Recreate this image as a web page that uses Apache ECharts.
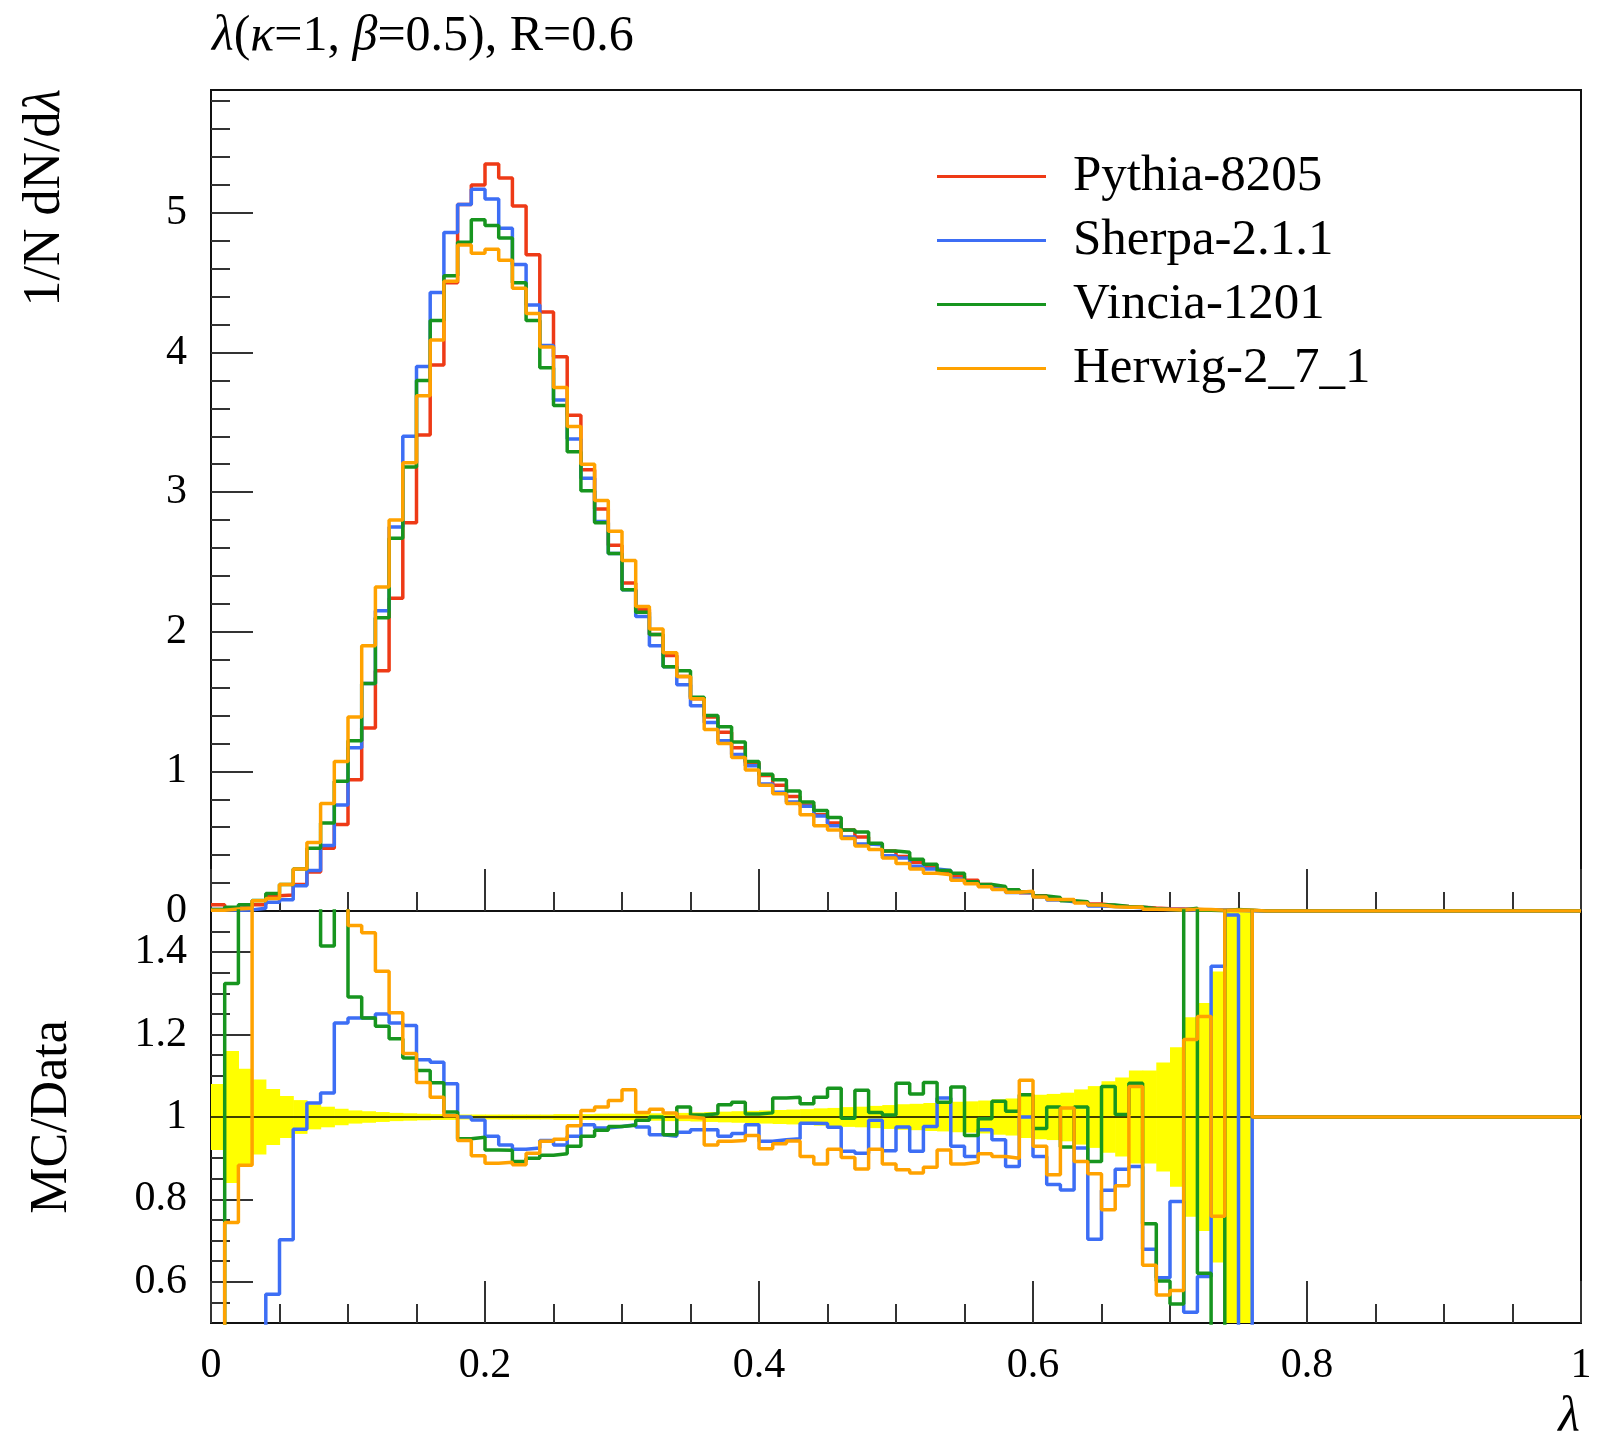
<!DOCTYPE html>
<html>
<head>
<meta charset="utf-8">
<title>lambda(k=1, b=0.5), R=0.6</title>
<script src="https://cdn.jsdelivr.net/npm/echarts@6.0.0/dist/echarts.min.js"></script>
<style>
  html, body { margin: 0; padding: 0; background: #fff; }
  #chart { width: 1597px; height: 1437px; }
</style>
</head>
<body>
<div id="chart"></div>
<script>
// ---- binning: 100 bins of width 0.01 on [0, 1] ----
const binWidth = 0.01
const nBins = 100
const xTicks = [0, 0.2, 0.4, 0.6, 0.8, 1]

// ---- main panel: 1/N dN/dλ ----
const pythia = [
  0.044, 0.02, 0.023, 0.045, 0.11, 0.115, 0.19, 0.28, 0.45, 0.62,
  0.94, 1.31, 1.72, 2.24, 2.78, 3.41, 3.91, 4.50, 5.06, 5.20,
  5.35, 5.25, 5.05, 4.70, 4.29, 3.97, 3.55, 3.16, 2.88, 2.62,
  2.35, 2.16, 1.98, 1.83, 1.68, 1.52, 1.39, 1.28, 1.17, 1.06,
  0.97, 0.90, 0.82, 0.76, 0.69, 0.63, 0.58, 0.53, 0.48, 0.43,
  0.39, 0.35, 0.31, 0.28, 0.25, 0.22, 0.19, 0.17, 0.15, 0.13,
  0.11, 0.095, 0.08, 0.065, 0.05, 0.04, 0.032, 0.026, 0.021, 0.017,
  0.014, 0.011, 0.008, 0.006, 0.004, 0.003, 0, 0, 0, 0,
  0, 0, 0, 0, 0, 0, 0, 0, 0, 0,
  0, 0, 0, 0, 0, 0, 0, 0, 0, 0
]
const sherpa = [
  0.01, 0.005, 0.008, 0.02, 0.063, 0.08, 0.18, 0.29, 0.47, 0.76,
  1.17, 1.63, 2.15, 2.75, 3.40, 3.90, 4.43, 4.86, 5.06, 5.17,
  5.10, 4.89, 4.63, 4.34, 4.05, 3.66, 3.38, 3.10, 2.79, 2.56,
  2.30, 2.11, 1.90, 1.75, 1.62, 1.47, 1.35, 1.22, 1.12, 1.04,
  0.91, 0.85, 0.78, 0.75, 0.68, 0.61, 0.53, 0.48, 0.475, 0.395,
  0.38, 0.32, 0.30, 0.29, 0.23, 0.20, 0.184, 0.16, 0.132, 0.13,
  0.10, 0.079, 0.066, 0.06, 0.035, 0.033, 0.028, 0.023, 0.014, 0.010,
  0.011, 0.006, 0.005, 0.008, 0.006, 0.001, 0, 0, 0, 0,
  0, 0, 0, 0, 0, 0, 0, 0, 0, 0,
  0, 0, 0, 0, 0, 0, 0, 0, 0, 0
]
const vincia = [
  0.01, 0.026, 0.045, 0.075, 0.125, 0.19, 0.30, 0.45, 0.63, 0.93,
  1.22, 1.63, 2.10, 2.67, 3.18, 3.80, 4.23, 4.55, 4.79, 4.95,
  4.91, 4.82, 4.50, 4.23, 3.89, 3.62, 3.29, 3.01, 2.78, 2.56,
  2.30, 2.14, 1.98, 1.75, 1.72, 1.53, 1.40, 1.32, 1.21, 1.07,
  0.98, 0.94, 0.86, 0.78, 0.72, 0.67, 0.58, 0.565, 0.485, 0.43,
  0.42, 0.37, 0.335, 0.29, 0.27, 0.21, 0.19, 0.176, 0.152, 0.137,
  0.107, 0.097, 0.074, 0.067, 0.045, 0.043, 0.032, 0.028, 0.016, 0.010,
  0.008, 0.02, 0.005, 0.002, 0.01, 0.005, 0, 0, 0, 0,
  0, 0, 0, 0, 0, 0, 0, 0, 0, 0,
  0, 0, 0, 0, 0, 0, 0, 0, 0, 0
]
const herwig = [
  0.005, 0.015, 0.02, 0.073, 0.09, 0.19, 0.30, 0.49, 0.77, 1.07,
  1.39, 1.90, 2.32, 2.80, 3.21, 3.69, 4.09, 4.51, 4.77, 4.71,
  4.74, 4.66, 4.46, 4.28, 4.04, 3.75, 3.47, 3.20, 2.94, 2.72,
  2.51, 2.18, 2.02, 1.85, 1.68, 1.52, 1.30, 1.20, 1.10, 1.01,
  0.90, 0.84, 0.77, 0.69, 0.61, 0.58, 0.52, 0.465, 0.44, 0.38,
  0.34, 0.30, 0.27, 0.26, 0.22, 0.196, 0.173, 0.154, 0.135, 0.142,
  0.10, 0.082, 0.082, 0.058, 0.043, 0.031, 0.027, 0.028, 0.013, 0.010,
  0.008, 0.013, 0.010, 0.005, 0.008, 0.005, 0, 0, 0, 0,
  0, 0, 0, 0, 0, 0, 0, 0, 0, 0,
  0, 0, 0, 0, 0, 0, 0, 0, 0, 0
]

// ---- ratio panel: MC/Data (values past the panel edges are clipped) ----
const sherpaRatio = [
  0.3, 0.3, 0.3, 0.3, 0.570, 0.702, 0.97, 1.034, 1.058, 1.228,
  1.24, 1.24, 1.25, 1.228, 1.222, 1.139, 1.133, 1.081, 1.0, 0.993,
  0.953, 0.932, 0.922, 0.925, 0.943, 0.932, 0.953, 0.981, 0.973, 0.977,
  0.981, 0.976, 0.957, 0.953, 0.963, 0.969, 0.969, 0.953, 0.96, 0.981,
  0.941, 0.945, 0.947, 0.985, 0.984, 0.975, 0.917, 0.912, 0.992, 0.918,
  0.976, 0.917, 0.977, 1.046, 0.929, 0.904, 0.969, 0.945, 0.88, 1.0,
  0.904, 0.836, 0.823, 0.925, 0.703, 0.822, 0.873, 0.88, 0.679, 0.61,
  0.795, 0.526, 0.613, 1.366, 1.49, 0.3, 1, 1, 1, 1,
  1, 1, 1, 1, 1, 1, 1, 1, 1, 1,
  1, 1, 1, 1, 1, 1, 1, 1, 1, 1
]
const vinciaRatio = [
  0.3, 1.324, 1.8, 1.8, 1.8, 1.8, 1.8, 1.8, 1.415, 1.8,
  1.291, 1.24, 1.22, 1.19, 1.143, 1.113, 1.083, 1.012, 0.947, 0.951,
  0.92, 0.919, 0.892, 0.90, 0.907, 0.911, 0.929, 0.953, 0.968, 0.977,
  0.98, 0.992, 1.0, 0.957, 1.024, 1.005, 1.008, 1.03, 1.036, 1.007,
  1.01, 1.046, 1.048, 1.032, 1.048, 1.07, 0.997, 1.065, 1.011, 1.005,
  1.082, 1.056, 1.084, 1.036, 1.073, 0.955, 0.996, 1.038, 1.014, 1.054,
  0.972, 1.024, 0.927, 1.024, 0.892, 1.074, 1.006, 1.082, 0.741, 0.602,
  0.546, 1.8, 0.621, 0.3, 1.8, 1.8, 1, 1, 1, 1,
  1, 1, 1, 1, 1, 1, 1, 1, 1, 1,
  1, 1, 1, 1, 1, 1, 1, 1, 1, 1
]
const herwigRatio = [
  0.3, 0.744, 0.883, 1.8, 1.8, 1.8, 1.8, 1.8, 1.8, 1.8,
  1.465, 1.447, 1.354, 1.253, 1.154, 1.084, 1.048, 1.003, 0.943, 0.906,
  0.888, 0.89, 0.884, 0.912, 0.941, 0.946, 0.979, 1.016, 1.024, 1.04,
  1.066, 1.011, 1.019, 1.01, 1.0, 0.997, 0.932, 0.941, 0.943, 0.955,
  0.923, 0.935, 0.942, 0.904, 0.886, 0.922, 0.902, 0.874, 0.922, 0.886,
  0.872, 0.864, 0.878, 0.920, 0.886, 0.89, 0.911, 0.904, 0.90, 1.089,
  0.929, 0.86, 1.022, 0.892, 0.862, 0.775, 0.833, 1.074, 0.64, 0.568,
  0.579, 1.188, 1.244, 0.759, 1.8, 1.8, 1, 1, 1, 1,
  1, 1, 1, 1, 1, 1, 1, 1, 1, 1,
  1, 1, 1, 1, 1, 1, 1, 1, 1, 1
]
// half-width of the yellow data-uncertainty band round 1, bins 0..75
const bandHalf = [
  0.08, 0.16, 0.117, 0.091, 0.068, 0.051, 0.041, 0.030, 0.025, 0.020,
  0.016, 0.014, 0.012, 0.010, 0.009, 0.008, 0.007, 0.007, 0.006, 0.006,
  0.006, 0.006, 0.006, 0.006, 0.006, 0.007, 0.007, 0.007, 0.008, 0.008,
  0.008, 0.009, 0.009, 0.010, 0.010, 0.011, 0.012, 0.013, 0.014, 0.015,
  0.016, 0.017, 0.018, 0.019, 0.021, 0.022, 0.024, 0.025, 0.027, 0.029,
  0.031, 0.032, 0.034, 0.035, 0.037, 0.038, 0.040, 0.043, 0.045, 0.051,
  0.054, 0.056, 0.059, 0.067, 0.075, 0.087, 0.096, 0.113, 0.113, 0.132,
  0.169, 0.242, 0.277, 0.353, 0.5, 0.5
]

const mainTicks = [0, 1, 2, 3, 4, 5]
const mainMinorTicks = [0.2, 0.4, 0.6, 0.8, 1.2, 1.4, 1.6, 1.8, 2.2, 2.4, 2.6, 2.8,
  3.2, 3.4, 3.6, 3.8, 4.2, 4.4, 4.6, 4.8, 5.2, 5.4, 5.6, 5.8]
const ratioTicks = [0.6, 0.8, 1, 1.2, 1.4]
const ratioMinorTicks = [0.55, 0.65, 0.7, 0.75, 0.85, 0.9, 0.95, 1.05, 1.1, 1.15,
  1.25, 1.3, 1.35, 1.45]

const names = ['Pythia-8205', 'Sherpa-2.1.1', 'Vincia-1201', 'Herwig-2_7_1']
const colors = ['#ee3a16', '#3d6ef5', '#17951f', '#ffa200']

// ---- helpers ----
const FONT = "'Liberation Serif', 'DejaVu Serif', serif"
const edges = Array.from({ length: nBins + 1 }, (_, i) => +(i * binWidth).toFixed(2))

// histogram as a step line: left edge of each bin, plus the closing right edge
function stepData(values) {
  const pts = values.map((v, i) => [edges[i], v])
  pts.push([edges[nBins], values[nBins - 1]])
  return pts
}

function histLine(name, color, values, axisIdx) {
  return {
    name,
    type: 'line',
    step: 'end',
    xAxisIndex: axisIdx,
    yAxisIndex: axisIdx === 0 ? 0 : 2,
    data: stepData(values),
    showSymbol: false,
    symbol: 'none',
    clip: true,
    lineStyle: { color, width: 3.5 },
    itemStyle: { color },
    z: 3
  }
}

const tickStyle = { color: '#333', width: 2 }

function xAxis(gridIndex, showLabel) {
  return {
    type: 'value',
    gridIndex,
    min: 0,
    max: 1,
    interval: 0.2,
    axisLine: { show: false },
    axisTick: { show: true, inside: true, length: 42, lineStyle: tickStyle },
    minorTick: { show: true, splitNumber: 4, length: 19, lineStyle: tickStyle },
    splitLine: { show: false },
    minorSplitLine: { show: false },
    axisLabel: {
      show: showLabel,
      margin: 22,
      fontSize: 42,
      fontFamily: FONT,
      color: '#000'
    }
  }
}

function yAxis(gridIndex, min, max, ticks, len, labels) {
  return {
    type: 'value',
    gridIndex,
    position: 'left',
    offset: 0,
    min,
    max,
    axisLine: { show: false },
    splitLine: { show: false },
    axisTick: { show: true, inside: true, length: len, customValues: ticks, lineStyle: tickStyle },
    axisLabel: labels
      ? { show: true, customValues: ticks, margin: 24, fontSize: 42, fontFamily: FONT, color: '#000' }
      : { show: false }
  }
}

const chart = echarts.init(document.getElementById('chart'))

chart.setOption({
  animation: false,
  backgroundColor: '#fff',
  textStyle: { fontFamily: FONT },
  grid: [
    { left: 211, right: 16, top: 90, height: 821, show: true, borderColor: '#111', borderWidth: 2, backgroundColor: 'transparent' },
    { left: 211, right: 16, top: 911, height: 412, show: true, borderColor: '#111', borderWidth: 2, backgroundColor: 'transparent' }
  ],
  xAxis: [xAxis(0, false), xAxis(1, true)],
  yAxis: [
    yAxis(0, 0, 5.88, mainTicks, 42, true),
    yAxis(0, 0, 5.88, mainMinorTicks, 19, false),
    yAxis(1, 0.5, 1.5, ratioTicks, 42, true),
    yAxis(1, 0.5, 1.5, ratioMinorTicks, 19, false)
  ],
  legend: {
    data: names,
    orient: 'vertical',
    left: 932,
    top: 146,
    icon: 'rect',
    itemWidth: 109,
    itemHeight: 3,
    itemGap: 13,
    selectedMode: false,
    textStyle: {
      fontSize: 51,
      lineHeight: 48,
      fontFamily: FONT,
      color: '#000',
      padding: [0, 0, 0, 22]
    }
  },
  graphic: [
    {
      type: 'text',
      x: 212,
      y: 37,
      style: {
        text: '{i|λ}({i|κ}=1, {i|β}=0.5), R=0.6',
        rich: { i: { fontStyle: 'italic', fontSize: 50, fontFamily: FONT } },
        fontSize: 50,
        fontFamily: FONT,
        fill: '#000',
        verticalAlign: 'middle'
      }
    },
    {
      type: 'text',
      x: 45,
      y: 89,
      rotation: Math.PI / 2,
      style: {
        text: '1/N dN/d{i|λ}',
        rich: { i: { fontStyle: 'italic', fontSize: 52, fontFamily: FONT } },
        fontSize: 52,
        fontFamily: FONT,
        fill: '#000',
        align: 'right',
        verticalAlign: 'middle'
      }
    },
    {
      type: 'text',
      x: 52,
      y: 1117,
      rotation: Math.PI / 2,
      style: {
        text: 'MC/Data',
        fontSize: 52,
        fontFamily: FONT,
        fill: '#000',
        align: 'center',
        verticalAlign: 'middle'
      }
    },
    {
      type: 'text',
      x: 1580,
      y: 1418,
      style: {
        text: 'λ',
        fontSize: 50,
        fontStyle: 'italic',
        fontFamily: FONT,
        fill: '#000',
        align: 'right',
        verticalAlign: 'middle'
      }
    }
  ],
  series: [
    // main panel
    histLine(names[0], colors[0], pythia, 0),
    histLine(names[1], colors[1], sherpa, 0),
    histLine(names[2], colors[2], vincia, 0),
    histLine(names[3], colors[3], herwig, 0),

    // ratio panel: data uncertainty band
    {
      type: 'custom',
      xAxisIndex: 1,
      yAxisIndex: 2,
      clip: true,
      z: 1,
      data: bandHalf.map((h, i) => [edges[i], edges[i + 1], h]),
      encode: { x: [0, 1] },
      renderItem(params, api) {
        const h = api.value(2)
        const p0 = api.coord([api.value(0), 1 + h])
        const p1 = api.coord([api.value(1), 1 - h])
        return {
          type: 'rect',
          shape: { x: p0[0], y: p0[1], width: p1[0] - p0[0] + 0.6, height: p1[1] - p0[1] },
          style: { fill: '#ffff00' }
        }
      }
    },
    // reference line at 1
    {
      type: 'line',
      xAxisIndex: 1,
      yAxisIndex: 2,
      data: [[0, 1], [1, 1]],
      showSymbol: false,
      symbol: 'none',
      lineStyle: { color: '#000', width: 1.5 },
      z: 2
    },
    histLine(names[1], colors[1], sherpaRatio, 1),
    histLine(names[2], colors[2], vinciaRatio, 1),
    histLine(names[3], colors[3], herwigRatio, 1)
  ]
})
</script>
</body>
</html>
